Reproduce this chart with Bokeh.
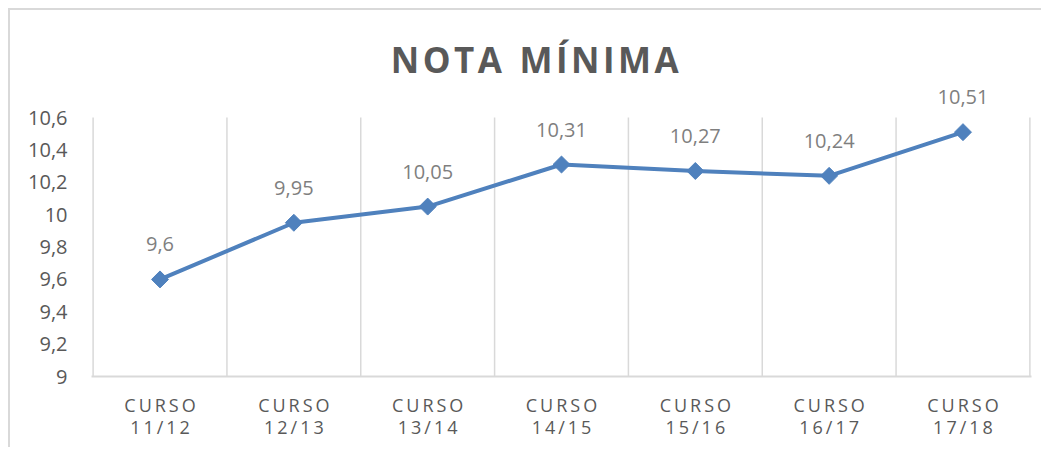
import math
from bokeh.plotting import figure
from bokeh.models import ColumnDataSource, LabelSet, Label, FixedTicker, Range1d
from bokeh.core.properties import value
from bokeh.embed import file_html
from bokeh.resources import INLINE

categories = ["CURSO\n11/12", "CURSO\n12/13", "CURSO\n13/14", "CURSO\n14/15",
              "CURSO\n15/16", "CURSO\n16/17", "CURSO\n17/18"]
nota_minima = [9.6, 9.95, 10.05, 10.31, 10.27, 10.24, 10.51]
y_ticks = [9.0, 9.2, 9.4, 9.6, 9.8, 10.0, 10.2, 10.4, 10.6]
y_tick_labels = ["9", "9,2", "9,4", "9,6", "9,8", "10", "10,2", "10,4", "10,6"]
title_text = "NOTA MÍNIMA"
Y_MIN, Y_MAX = 9.0, 10.6

def spaced(s, sp):
    return "\n".join(sp.join(list(line)) for line in s.split("\n"))

n = len(categories)
xs = [i + 0.5 for i in range(n)]
labels = [("%g" % v).replace(".", ",") for v in nota_minima]
src = ColumnDataSource(dict(x=xs, y=nota_minima, lab=labels))
bounds = list(range(n + 1))
grid_src = ColumnDataSource(dict(x=bounds, y0=[Y_MIN] * len(bounds), y1=[Y_MAX] * len(bounds)))

FONT = "Open Sans"
p = figure(width=1031, height=437, output_backend="svg", toolbar_location=None,
           x_range=Range1d(-0.012, n + 0.012), y_range=Range1d(Y_MIN, 11.2),
           min_border_left=81, min_border_right=10, min_border_top=10, min_border_bottom=71)
p.margin = (8, 0, 0, 8)
p.frame_width = 940
p.frame_height = 356
p.outline_line_color = None
p.background_fill_color = "white"
p.border_fill_color = "white"
p.styles = {"border-top": "2px solid #d9d9d9", "border-left": "2px solid #d9d9d9"}

p.xgrid.visible = False
p.ygrid.visible = False
p.segment(x0="x", y0="y0", x1="x", y1="y1", source=grid_src, line_color="#d9d9d9", line_width=1.5)

p.xaxis.ticker = FixedTicker(ticks=xs)
p.xaxis.major_label_overrides = {x: spaced(c, "\u2009") for x, c in zip(xs, categories)}
p.xaxis.axis_line_color = "#d9d9d9"
p.xaxis.axis_line_width = 2
p.xaxis.major_tick_line_color = None
p.xaxis.minor_tick_line_color = None
p.xaxis.major_label_standoff = 10
p.xaxis.major_label_text_font = FONT
p.xaxis.major_label_text_font_size = "18px"
p.xaxis.major_label_text_line_height = 0.92
p.xaxis.major_label_text_color = "#595959"

p.yaxis.ticker = FixedTicker(ticks=y_ticks)
p.yaxis.major_label_overrides = {t: l for t, l in zip(y_ticks, y_tick_labels)}
p.yaxis.axis_line_color = None
p.yaxis.major_tick_line_color = None
p.yaxis.minor_tick_line_color = None
p.yaxis.major_label_standoff = 18
p.yaxis.major_label_text_font = FONT
p.yaxis.major_label_text_font_size = "20px"
p.yaxis.major_label_text_color = "#595959"

p.line("x", "y", source=src, line_color="#4f81bd", line_width=4)
p.scatter("x", "y", source=src, marker="square", angle=math.pi / 4, size=12,
          fill_color="#4f81bd", line_color="#4f81bd")

p.add_layout(LabelSet(x="x", y="y", text="lab", source=src, y_offset=35, text_align="center",
                      text_baseline="middle", text_font=value(FONT), text_font_size="20px",
                      text_color="#7f7f7f"))

p.add_layout(Label(x=3.3, y=10.6, y_offset=58, text=spaced(title_text, "\u200a").replace("\u200a \u200a", "\u2002"),
                   text_align="center", text_baseline="middle", text_font=FONT,
                   text_font_size="35px", text_font_style="bold", text_color="#595959"))

open("out.html", "w").write(file_html(p, INLINE))
